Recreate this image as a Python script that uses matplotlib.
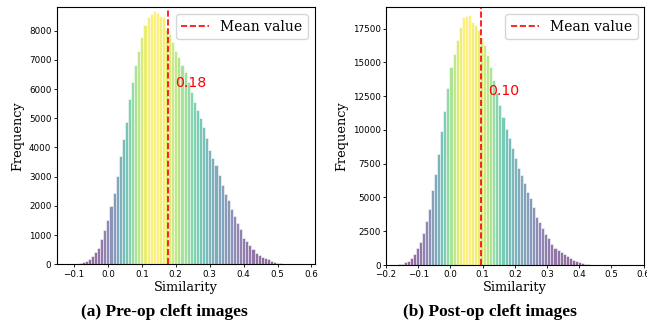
import numpy as np
import matplotlib
matplotlib.use('Agg')
import matplotlib.pyplot as plt

# --- data ---
# pre-op histogram: bin centres start at pre_start, step pre_width
pre_start = -0.1
pre_width = 0.0091
pre_counts = [5, 21, 33, 90, 124, 182, 296, 411, 559, 856, 1176, 1507, 2009, 2431,
              3014, 3721, 4292, 4863, 5662, 6255, 6815, 7317, 7790, 8195, 8479, 8572,
              8685, 8596, 8503, 8470, 8040, 7870, 7600, 7300, 7111, 6826, 6597, 6255,
              5912, 5570, 5285, 5000, 4714, 4315, 3915, 3630, 3400, 3050, 2700, 2400,
              2200, 1900, 1650, 1420, 1200, 900, 800, 650, 520, 400, 320, 240, 205,
              175, 120, 80, 45, 30, 20, 10, 5]
pre_mean = 0.177
pre_mean_label = '0.18'

# post-op histogram
post_start = -0.169
post_width = 0.0095
post_counts = [20, 50, 100, 247, 296, 494, 840, 1235, 1728, 2395, 3259, 4148, 5555,
               6740, 8222, 9950, 11407, 13086, 14691, 15654, 16666, 17654, 18395,
               18468, 18518, 18024, 17800, 17400, 16800, 16300, 15555, 14691, 13703,
               12716, 11852, 10987, 10074, 9383, 8642, 7901, 7160, 6666, 6049, 5432,
               4938, 4321, 3580, 3160, 2765, 2272, 1975, 1580, 1284, 1100, 987, 815,
               642, 543, 395, 296, 198, 123, 74, 50, 25, 15, 8, 5]
post_mean = 0.095
post_mean_label = '0.10'

captions = ['(a) Pre-op cleft images', '(b) Post-op cleft images']


def draw_hist(ax, start, width, counts, mean, mean_label, label_y, xticks):
    counts = np.array(counts, dtype=float)
    centres = start + width * np.arange(len(counts))
    colors = plt.cm.viridis(counts / counts.max())
    ax.bar(centres, counts, width=width, color=colors, alpha=0.6,
           edgecolor='white', linewidth=0.6)
    ax.axvline(mean, color='red', ls='--', lw=1.2, label='Mean value')
    ax.text(mean + 0.022, label_y, mean_label, color='red', fontsize=10.2,
            va='center', ha='left')
    ax.set_xlabel('Similarity', family='DejaVu Serif', fontsize=9.3, labelpad=1.5)
    ax.set_ylabel('Frequency', family='DejaVu Serif', fontsize=9.3, labelpad=3)
    ax.tick_params(labelsize=6.3, length=2.3, width=0.6, pad=1.5)
    ax.legend(loc='upper right', prop={'family': 'DejaVu Serif', 'size': 10})
    ax.set_xticks(xticks)


fig = plt.figure(figsize=(6.47, 3.25), dpi=100)
ax1 = fig.add_axes([0.0876, 0.1868, 0.399, 0.791])
ax2 = fig.add_axes([0.5966, 0.1846, 0.3995, 0.7932])

draw_hist(ax1, pre_start, pre_width, pre_counts, pre_mean, pre_mean_label, 6200,
          np.arange(-0.1, 0.61, 0.1))
ax1.set_xlim(-0.151, 0.61)
ax1.set_ylim(0, 8800)

draw_hist(ax2, post_start, post_width, post_counts, post_mean, post_mean_label, 12900,
          np.arange(-0.2, 0.61, 0.1))
ax2.set_xlim(-0.2, 0.603)
ax2.set_ylim(0, 19090)

fig.text(0.2535, 0.04, captions[0], ha='center', va='center',
         family='Liberation Serif', weight='bold', fontsize=12.5)
fig.text(0.758, 0.04, captions[1], ha='center', va='center',
         family='Liberation Serif', weight='bold', fontsize=12.5)

fig.savefig('out.png', dpi=100)
